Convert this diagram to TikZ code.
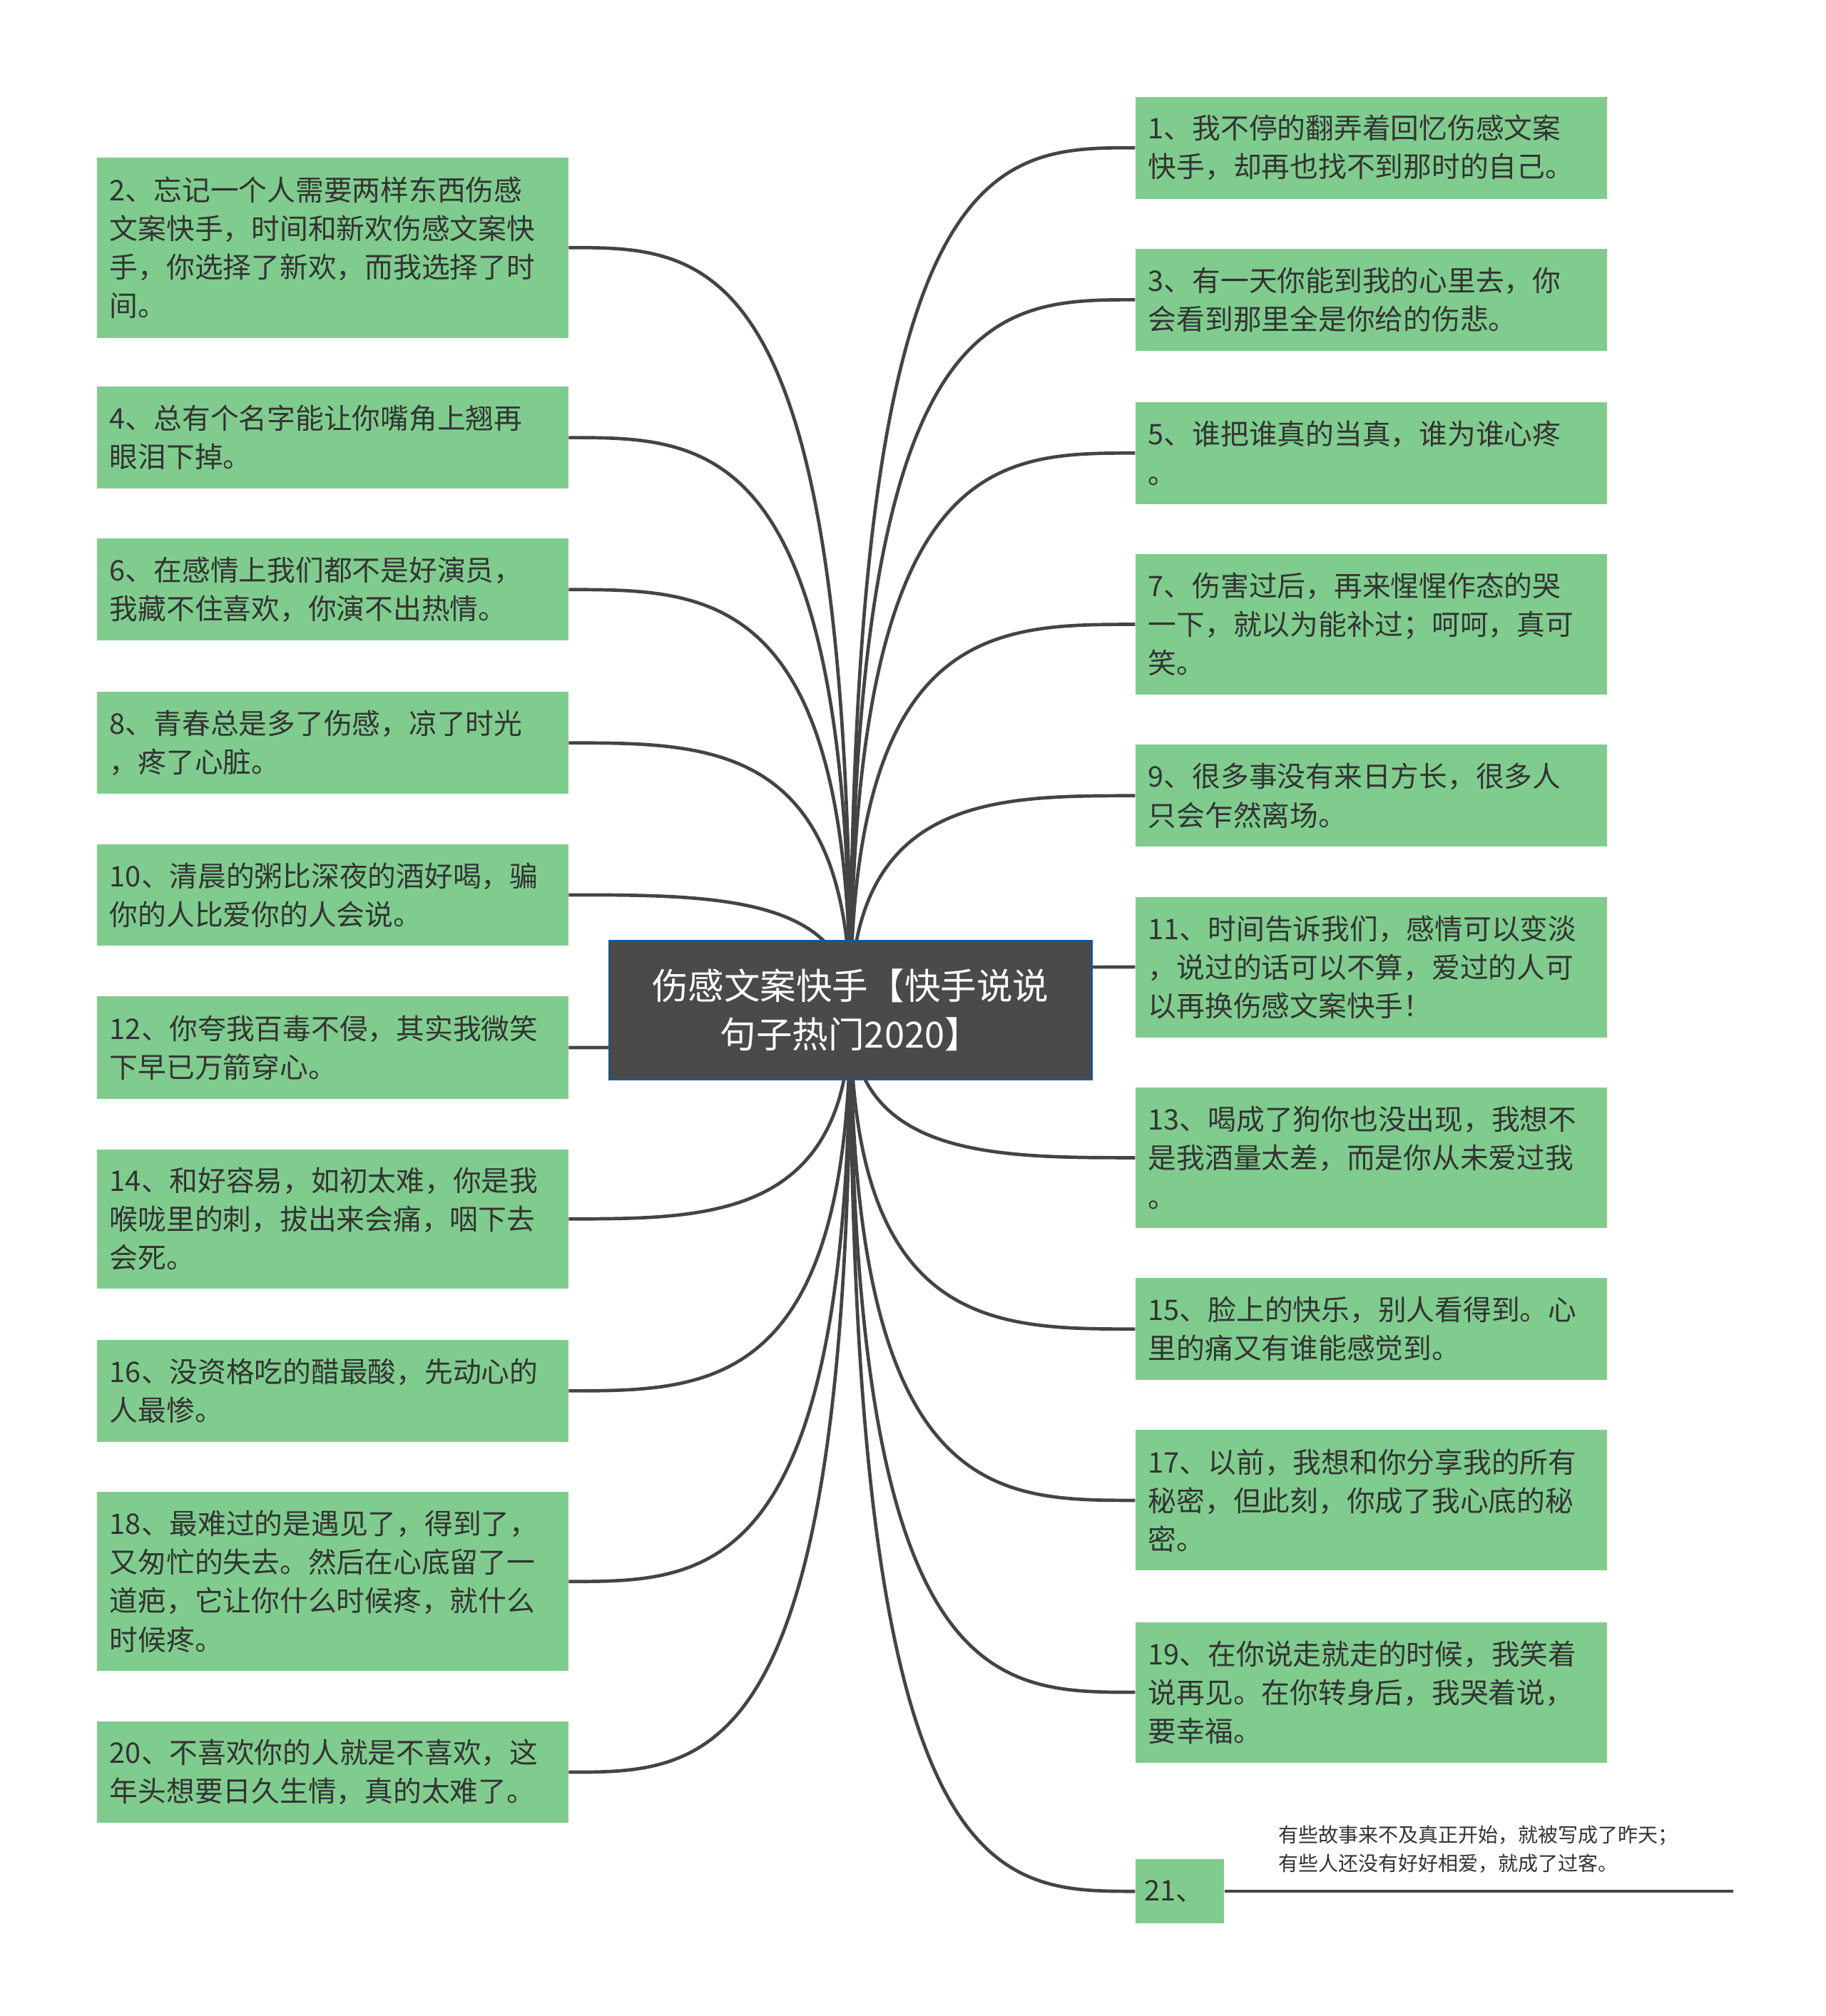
\documentclass[tikz,border=0pt]{standalone}
\usepackage{fontspec}
\setmainfont{Noto Sans CJK SC}
\usetikzlibrary{backgrounds,calc}
\definecolor{boxg}{HTML}{80CC8E}
\definecolor{txt}{HTML}{333333}
\definecolor{lin}{HTML}{444444}
\definecolor{cen}{HTML}{4A4A4A}
\tikzset{
 leaf/.style={fill=boxg,draw=none,anchor=north west,minimum width=366pt,text width=346pt,align=left,inner xsep=10pt,font=\fontsize{22}{30}\selectfont,text=txt},
 conn/.style={draw=lin,line width=2.6pt}
}
\newcommand{\lbox}[4]{\node[leaf,minimum height=#3pt] (#1) at (75,#2) {#4};}
\newcommand{\rbox}[4]{\node[leaf,minimum height=#3pt] (#1) at (881,#2) {#4};}
\begin{document}
\begin{tikzpicture}[x=1pt,y=-1pt]
\useasboundingbox (0,0) rectangle (1417,1565);
\coordinate (c) at (660,784);
\lbox{l2}{122}{140}{2、忘记一个人需要两样东西伤感\\文案快手，时间和新欢伤感文案快\\手，你选择了新欢，而我选择了时\\间。}
\lbox{l4}{300}{79}{4、总有个名字能让你嘴角上翘再\\眼泪下掉。}
\lbox{l6}{418}{79}{6、在感情上我们都不是好演员，\\我藏不住喜欢，你演不出热情。}
\lbox{l8}{537}{79}{8、青春总是多了伤感，凉了时光\\，疼了心脏。}
\lbox{l10}{655}{79}{10、清晨的粥比深夜的酒好喝，骗\\你的人比爱你的人会说。}
\lbox{l12}{773}{80}{12、你夸我百毒不侵，其实我微笑\\下早已万箭穿心。}
\lbox{l14}{892}{108}{14、和好容易，如初太难，你是我\\喉咙里的刺，拔出来会痛，咽下去\\会死。}
\lbox{l16}{1040}{79}{16、没资格吃的醋最酸，先动心的\\人最惨。}
\lbox{l18}{1158}{139}{18、最难过的是遇见了，得到了，\\又匆忙的失去。然后在心底留了一\\道疤，它让你什么时候疼，就什么\\时候疼。}
\lbox{l20}{1336}{79}{20、不喜欢你的人就是不喜欢，这\\年头想要日久生情，真的太难了。}
\rbox{r1}{75}{79}{1、我不停的翻弄着回忆伤感文案\\快手，却再也找不到那时的自己。}
\rbox{r3}{193}{79}{3、有一天你能到我的心里去，你\\会看到那里全是你给的伤悲。}
\rbox{r5}{312}{79}{5、谁把谁真的当真，谁为谁心疼\\。}
\rbox{r7}{430}{109}{7、伤害过后，再来惺惺作态的哭\\一下，就以为能补过；呵呵，真可\\笑。}
\rbox{r9}{578}{79}{9、很多事没有来日方长，很多人\\只会乍然离场。}
\rbox{r11}{696}{109}{11、时间告诉我们，感情可以变淡\\，说过的话可以不算，爱过的人可\\以再换伤感文案快手！}
\rbox{r13}{844}{109}{13、喝成了狗你也没出现，我想不\\是我酒量太差，而是你从未爱过我\\。}
\rbox{r15}{992}{79}{15、脸上的快乐，别人看得到。心\\里的痛又有谁能感觉到。}
\rbox{r17}{1110}{109}{17、以前，我想和你分享我的所有\\秘密，但此刻，你成了我心底的秘\\密。}
\rbox{r19}{1259}{109}{19、在你说走就走的时候，我笑着\\说再见。在你转身后，我哭着说，\\要幸福。}
\node[leaf,minimum width=69pt,text width=55pt,inner xsep=7pt,minimum height=50pt] (r21) at (881,1443) {21、};
\node[anchor=north west,align=left,font=\fontsize{15.5}{22}\selectfont,text=txt,inner sep=0pt] (note) at (992,1417) {有些故事来不及真正开始，就被写成了昨天；\\有些人还没有好好相爱，就成了过客。};
\coordinate (ne) at (1345,1468);
\draw[lin,line width=2pt] (r21.east |- ne) -- (ne);
\node[fill=cen,draw=blue!50!cyan!70!black,line width=1pt,minimum width=375pt,minimum height=108pt,text=white,align=center,font=\fontsize{28}{38}\selectfont] (ctr) at (c) {伤感文案快手【快手说说\\句子热门2020】};
\begin{scope}[on background layer]
\fill[white] (0,0) rectangle (1417,1565);
\foreach \n in {l2,l4,l6,l8,l10,l12,l14,l16,l18,l20}{
  \path (\n.east) coordinate (e);
  \draw[conn] (c) .. controls (c |- e) and ($(e)+(110,0)$) .. (e);
}
\foreach \n in {r1,r3,r5,r7,r9,r11,r13,r15,r17,r19,r21}{
  \path (\n.west) coordinate (e);
  \draw[conn] (c) .. controls (c |- e) and ($(e)+(-110,0)$) .. (e);
}
\end{scope}
\end{tikzpicture}
\end{document}
